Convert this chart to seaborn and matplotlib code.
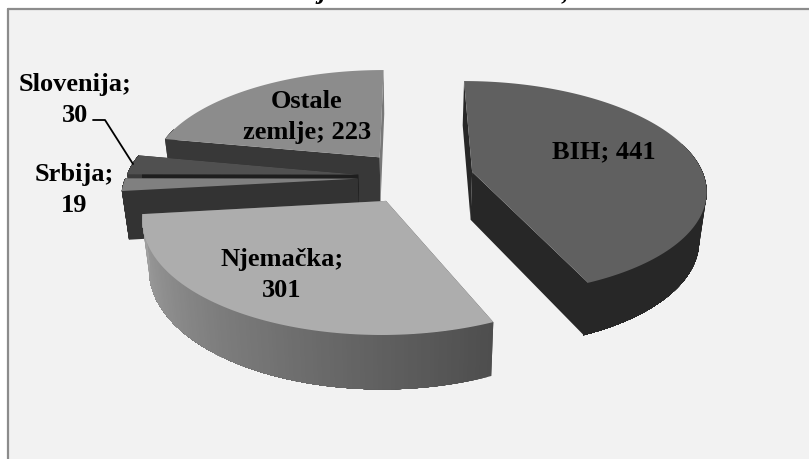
import numpy as np
import seaborn as sns
import matplotlib.pyplot as plt

#############################################################################
# data
#############################################################################
countries = ['BIH', 'Njemačka', 'Srbija', 'Slovenija', 'Ostale zemlje']
values = [441, 301, 19, 30, 223]
labels = ['BIH; 441', 'Njemačka;\n301', 'Srbija;\n19', 'Slovenija;\n30', 'Ostale\nzemlje; 223']

top_colors = ['#606060', '#adadad', '#808080', '#505050', '#8c8c8c']
first_face = ['#272727', '#4e4e4e', '#333333', '#1e1e1e', '#383838']
last_face = ['#272727', '#4e4e4e', '#333333', '#1e1e1e', '#787878']
rim_left = ['#272727', '#a2a2a2', '#333333', '#3a3a3a', '#383838']
rim_right = ['#272727', '#4e4e4e', '#333333', '#3a3a3a', '#383838']
label_pos = [(604, 152), (282, 275), (74, 190), (75, 100), (307, 117)]

# pie is exploded, seen in perspective
explode = 0.25
base_u, base_v = 0.025, -0.03
cx, cy = 410, 175
rx, ry = 231, 105
persp = 0.15
depth = 48


def project(u, v):
    w = 1 + persp * v
    return cx + rx * u / w, cy - ry * v / w


def lower(x, y):
    return cx + (x - cx) * 0.975, y + depth + 0.04 * (y - cy)


sns.set_theme(style='white')
plt.rcParams['font.family'] = ['Liberation Serif', 'DejaVu Serif']

fig = plt.figure(figsize=(8.09, 4.6), dpi=100)
ax = fig.add_axes([0, 0, 1, 1])
ax.set_xlim(0, 809)
ax.set_ylim(460, 0)
ax.axis('off')

# panel background and the two visible borders
ax.fill_between([8, 809], 10, 460, color='#f2f2f2', lw=0, zorder=0)
ax.plot([8, 8], [460, 10], color='#8c8c8c', lw=1.6, zorder=1)
ax.plot([8, 809], [10, 10], color='#8c8c8c', lw=1.6, zorder=1)

# only the bottoms of the cropped title survive
ax.text(322, -1, 'j', fontsize=19, style='italic', weight='bold', ha='center', va='baseline', color='black')
ax.text(565, -1, ',', fontsize=19, style='italic', weight='bold', ha='center', va='baseline', color='black')

#############################################################################
# slices, back to front
#############################################################################
fracs = np.array(values) / np.sum(values)
ends = np.cumsum(fracs) * 2 * np.pi
starts = ends - fracs * 2 * np.pi

for i in [4, 3, 2, 1, 0]:
    mid = (starts[i] + ends[i]) / 2
    u0 = base_u + explode * np.sin(mid)
    v0 = base_v + explode * np.cos(mid)
    th = np.linspace(starts[i], ends[i], 120)
    x, y = project(u0 + np.sin(th), v0 + np.cos(th))
    xa, ya = project(u0, v0)
    xl, yl = lower(x, y)
    xal, yal = lower(xa, ya)
    z = 2 + 5 - i

    # cut faces
    ax.fill([xa, x[0], xl[0], xal], [ya, y[0], yl[0], yal], color=first_face[i], lw=0, zorder=z)
    ax.fill([xa, x[-1], xl[-1], xal], [ya, y[-1], yl[-1], yal], color=last_face[i], lw=0, zorder=z)

    # outer wall, shaded along the arc; each piece runs to the end of the arc so no seams show
    # the back of the wall cannot be seen, so it is left out
    keep = np.cos(th) < 0.3
    tx, ty, bx, by = x[keep], y[keep], xl[keep], yl[keep]
    shades = sns.blend_palette([rim_right[i], rim_left[i]], max(len(tx), 2))
    for k in range(len(tx) - 1):
        ax.fill(np.r_[tx[k:], bx[k:][::-1]], np.r_[ty[k:], by[k:][::-1]], color=shades[k], lw=0, zorder=z)

    # top
    ax.fill(np.r_[xa, x], np.r_[ya, y], color=top_colors[i], lw=0, zorder=z)

#############################################################################
# labels
#############################################################################
for lab, pos in zip(labels, label_pos):
    ax.text(pos[0], pos[1], lab, fontsize=19, weight='bold', color='black', ha='center', va='center',
            linespacing=1.42, zorder=20)

ax.plot([93, 105, 133], [121, 121, 165], color='black', lw=1.3, zorder=20)

plt.savefig('out.png', dpi=100)
